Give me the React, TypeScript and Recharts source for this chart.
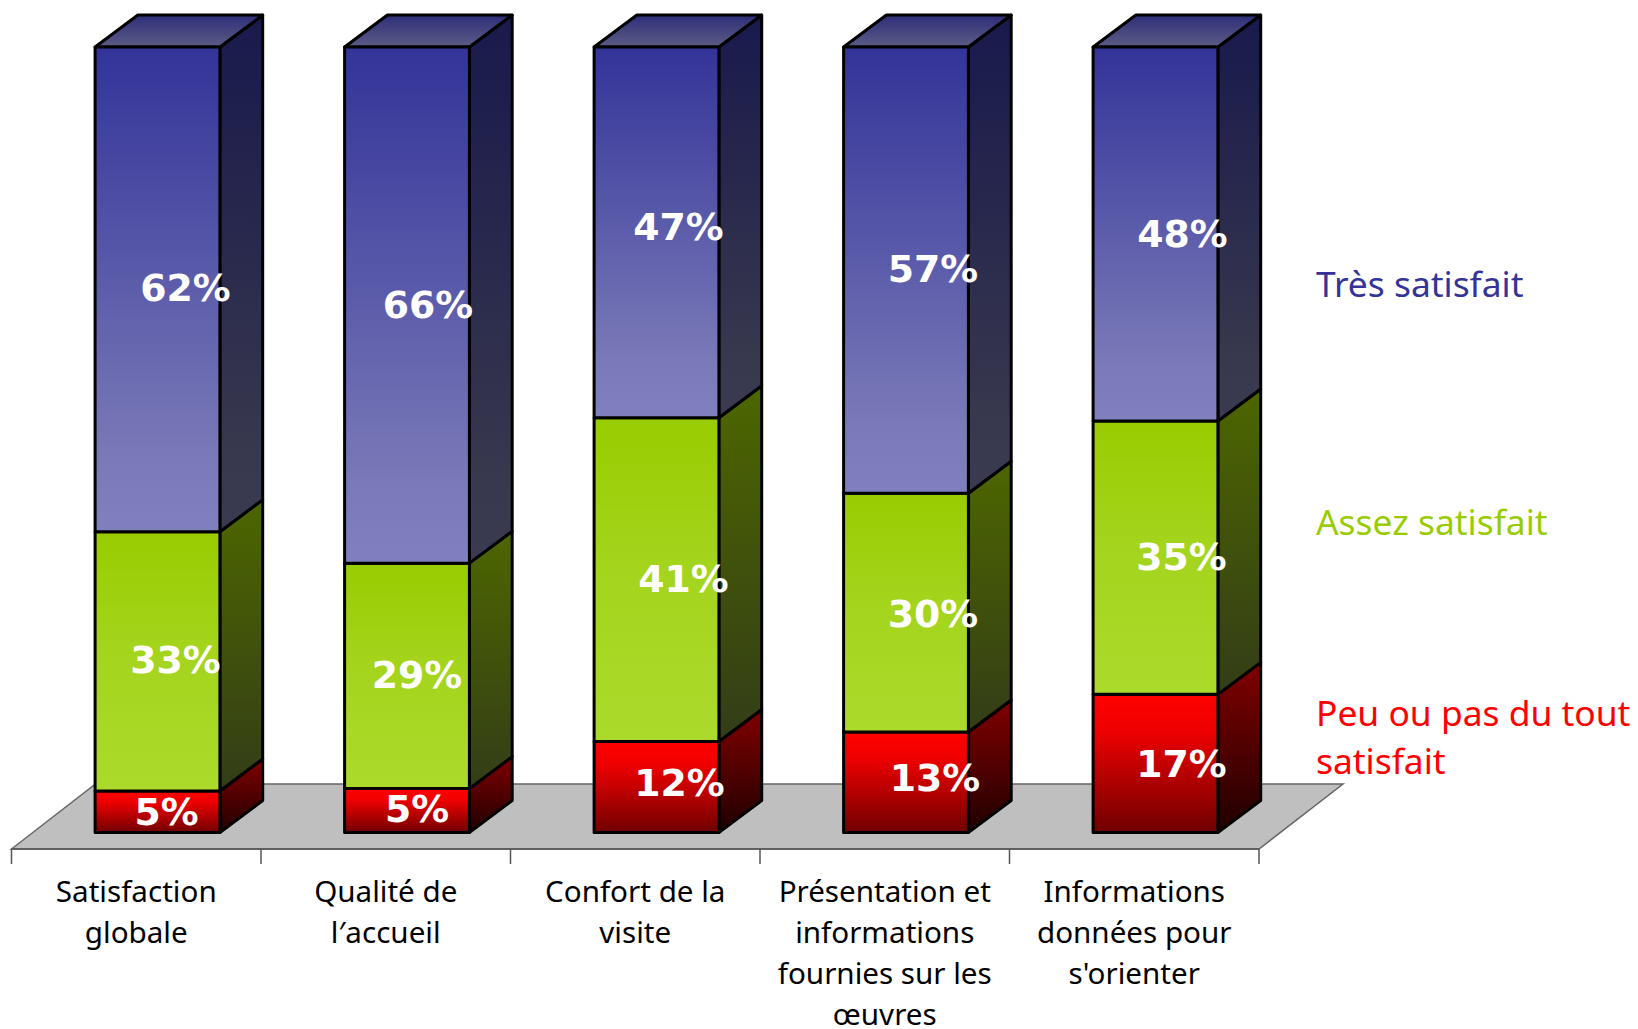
import React from 'react';
import { BarChart, Bar, XAxis, YAxis, ReferenceArea, LabelList, Legend } from 'recharts';

const categories = ['Satisfaction globale', "Qualité de l'accueil", 'Confort de la visite', 'Présentation et informations fournies sur les œuvres', "Informations données pour s'orienter"];
const categoryLines = [
  ['Satisfaction', 'globale'],
  ['Qualité de', 'l′accueil'],
  ['Confort de la', 'visite'],
  ['Présentation et', 'informations', 'fournies sur les', 'œuvres'],
  ['Informations', 'données pour', "s'orienter"],
];
const peu = [5.3, 5.6, 11.6, 12.8, 17.6];
const assez = [33.0, 28.7, 41.2, 30.4, 34.8];
const tres = [61.7, 65.7, 47.2, 56.8, 47.6];
const peuLabels = ['5%', '5%', '12%', '13%', '17%'];
const assezLabels = ['33%', '29%', '41%', '30%', '35%'];
const tresLabels = ['62%', '66%', '47%', '57%', '48%'];

const rows = categories.map((name, i) => ({
  name, peu: peu[i], assez: assez[i], tres: tres[i],
  peuLabel: peuLabels[i], assezLabel: assezLabels[i], tresLabel: tresLabels[i],
}));

// layout
const W = 1638, H = 1029;
const LEFT = 11.5, RIGHT = 1259, AXIS_Y = 849, TOP = 47, BASE_Y = 832.6;
const BAND = (RIGHT - LEFT) / 5;
const BAR_W = 124.8, SHIFT = 21.6, DX = 42.8, DY = 32;
const Y_MIN = -(AXIS_Y - BASE_Y) / (BASE_Y - TOP) * 100;
const FONT = '"Noto Sans", Tahoma, sans-serif';
const peuNudge = [[9, 0], [10, -2], [23, -4], [29, -4], [26, 1]];
const assezNudge = [[18, -1], [10, -1], [27, -1], [27, 1], [26, -1]];
const tresNudge = [[28, -1], [21, 0], [22, -5], [27, -1], [27, 0]];

const Segment = (props: any) => {
  const { x, y, width, height, id, cap } = props;
  const fx = x + SHIFT;
  const fw = width;
  const side = `${fx + fw},${y + height} ${fx + fw + DX},${y + height - DY} ${fx + fw + DX},${y - DY} ${fx + fw},${y}`;
  return (
    <g stroke="#000" strokeWidth={3} strokeLinejoin="round">
      <polygon points={side} fill={`url(#${id}Side)`} />
      {cap && (
        <polygon points={`${fx},${y} ${fx + DX},${y - DY} ${fx + fw + DX},${y - DY} ${fx + fw},${y}`} fill="url(#capGrad)" />
      )}
      <rect x={fx} y={y} width={fw} height={height} fill={`url(#${id}Front)`} />
    </g>
  );
};

const Floor = (props: any) => {
  const { x, y, width, height } = props;
  const b = y + height;
  const dx = 84, dy = 65;
  return (
    <g>
      <polygon points={`${x},${b} ${x + dx},${b - dy} ${x + width + dx},${b - dy} ${x + width},${b}`} fill="#BFBFBF" stroke="#666" strokeWidth={1.5} />
    </g>
  );
};

const CategoryTick = (props: any) => {
  const { x, index } = props;
  const lines = categoryLines[index] || [];
  return (
    <g>
      <line x1={x - BAND / 2} y1={AXIS_Y} x2={x - BAND / 2} y2={AXIS_Y + 15} stroke="#555" strokeWidth={1.5} />
      {index === categories.length - 1 && (
        <line x1={x + BAND / 2} y1={AXIS_Y} x2={x + BAND / 2} y2={AXIS_Y + 15} stroke="#555" strokeWidth={1.5} />
      )}
      <text textAnchor="middle" fontFamily={FONT} fontSize={29.6} fill="#000">
        {lines.map((l, i) => (
          <tspan key={i} x={x} y={AXIS_Y + 52.5 + i * 41.3}>{l}</tspan>
        ))}
      </text>
    </g>
  );
};

const makeLabel = (nudge: number[][]) => (props: any) => {
  const { x, y, width, height, value, index } = props;
  const n = nudge[index];
  return (
    <text x={x + SHIFT + width / 2 + n[0]} y={y + height / 2 + n[1]} textAnchor="middle" dominantBaseline="central"
      fontFamily='"DejaVu Sans", Verdana, sans-serif' fontWeight="bold" fontSize={37.8} fill="#fff">
      {value}
    </text>
  );
};

const legendRows = [
  { key: 'Très satisfait', top: 259 },
  { key: 'Assez satisfait', top: 497 },
  { key: 'Peu ou pas du tout satisfait', top: 688 },
];

const LegendText = (props: any) => {
  const items = props.payload || [];
  return (
    <div>
      {legendRows.map((r) => {
        const it = items.find((p: any) => p.value === r.key);
        return (
          <div key={r.key} style={{ position: 'absolute', left: 0, top: r.top, width: 322, color: it ? it.color : '#000', fontFamily: FONT, fontSize: 35.4, lineHeight: '48px', whiteSpace: 'normal' }}>
            {r.key}
          </div>
        );
      })}
    </div>
  );
};

const grad = (id: string, stops: [number, string][]) => (
  <linearGradient id={id} x1="0" y1="0" x2="0" y2="1">
    {stops.map(([o, c]) => <stop key={o} offset={o} stopColor={c} />)}
  </linearGradient>
);

export default function App() {
  return (
    <div style={{ position: 'absolute', left: 0, top: 0, width: W, height: H, background: '#fff', overflow: 'hidden' }}>
      <BarChart width={W} height={H} data={rows} barSize={BAR_W}
        margin={{ top: TOP, left: LEFT, right: W - RIGHT, bottom: H - AXIS_Y - 120 }}>
        <defs>
          {grad('tresFront', [[0, '#333399'], [0.85, '#7A7AB8'], [1, '#8080BE']])}
          {grad('tresSide', [[0, '#19194D'], [0.85, '#38384E'], [1, '#3A3A50']])}
          {grad('assezFront', [[0, '#99CC00'], [0.45, '#A4D41C'], [1, '#ACDA2C']])}
          {grad('assezSide', [[0, '#4D6600'], [1, '#333D17']])}
          {grad('peuFront', [[0, '#FF0000'], [0.25, '#F00000'], [1, '#700000']])}
          {grad('peuSide', [[0, '#800000'], [1, '#200000']])}
          {grad('capGrad', [[0, '#2E2E7A'], [1, '#5C5C85']])}
        </defs>
        <ReferenceArea y1={Y_MIN} y2={100} shape={Floor} ifOverflow="visible" />
        <XAxis dataKey="name" interval={0} height={120} tickLine={false} tickSize={0} tick={CategoryTick} axisLine={{ stroke: '#555', strokeWidth: 1.5 }} />
        <YAxis hide domain={[Y_MIN, 100]} type="number" />
        <Legend layout="vertical" align="center" verticalAlign="middle" content={LegendText}
          wrapperStyle={{ position: 'absolute', left: 1316, top: 0, width: 322, height: 0, margin: 0 }} />
        <Bar dataKey="peu" name="Peu ou pas du tout satisfait" stackId="s" fill="#FF0000" isAnimationActive={false}
          shape={(p: any) => <Segment {...p} id="peu" />}>
          <LabelList dataKey="peuLabel" content={makeLabel(peuNudge)} />
        </Bar>
        <Bar dataKey="assez" name="Assez satisfait" stackId="s" fill="#99CC00" isAnimationActive={false}
          shape={(p: any) => <Segment {...p} id="assez" />}>
          <LabelList dataKey="assezLabel" content={makeLabel(assezNudge)} />
        </Bar>
        <Bar dataKey="tres" name="Très satisfait" stackId="s" fill="#333399" isAnimationActive={false}
          shape={(p: any) => <Segment {...p} id="tres" cap />}>
          <LabelList dataKey="tresLabel" content={makeLabel(tresNudge)} />
        </Bar>
      </BarChart>
    </div>
  );
}
